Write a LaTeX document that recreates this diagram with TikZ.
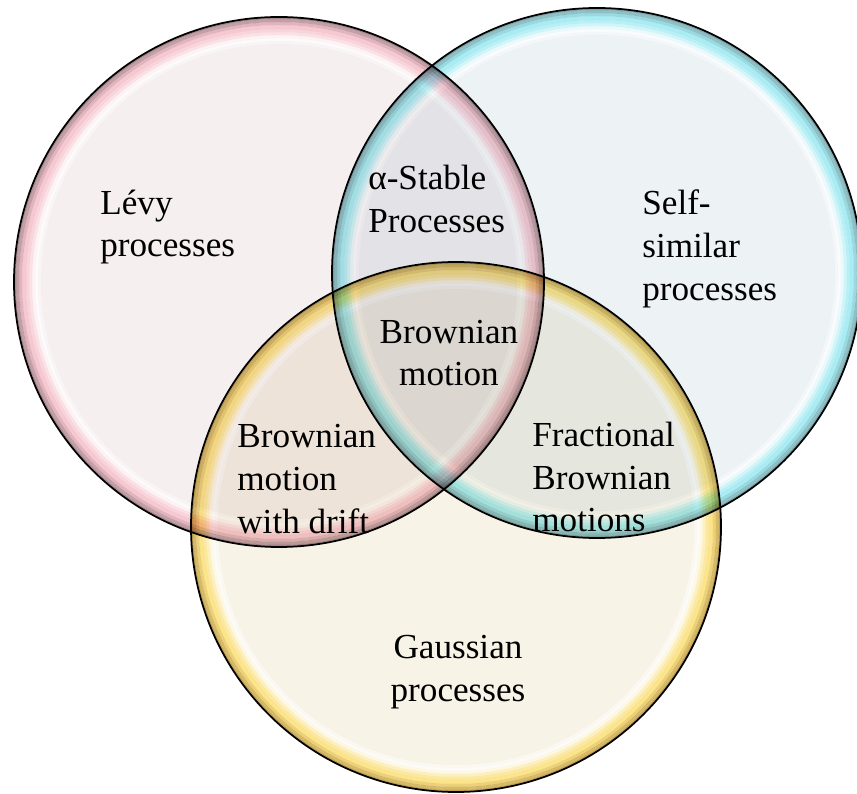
\documentclass[tikz,border=0pt]{standalone}
\usepackage{fontspec}
\setmainfont{Liberation Serif}

\definecolor{levyfill}{HTML}{F5EFF0}
\definecolor{levyrim}{HTML}{F6C9D2}
\definecolor{levyedge}{HTML}{A88A90}
\definecolor{selffill}{HTML}{EDF2F5}
\definecolor{selfrim}{HTML}{A9ECF3}
\definecolor{selfedge}{HTML}{7FA8AE}
\definecolor{gaussfill}{HTML}{F7F3E7}
\definecolor{gaussrim}{HTML}{FBE48A}
\definecolor{gaussedge}{HTML}{C2A455}

\begin{document}
\begin{tikzpicture}[x=0.2mm,y=-0.2mm]
  \tikzset{ ball/.style={blend mode=multiply,even odd rule},
    rim/.style={draw=black,line width=0.35mm},
    lbl/.style={font=\fontsize{20}{24.3}\selectfont,inner sep=0pt,align=left},
  }
  \useasboundingbox (0,0) rectangle (857,794);

  % the three sets, body and glossy rim
  \foreach \cx/\cy/\nm in {279/282/levy,597/273/self,456/527/gauss}{
    \fill[ball,fill=\nm fill] (\cx,\cy) circle (238);
    \foreach \ri/\ro/\c in {238/241/\nm fill!60!white,241/244/\nm fill!30!white,
        244/247/\nm rim!25!white,247/250/\nm rim!55!white,250/253/\nm rim!80!white,
        253/257/\nm rim,257/260/\nm rim!70!\nm edge,260/263/\nm rim!35!\nm edge,
        263/265/\nm edge}
      \fill[ball,fill=\c] (\cx,\cy) circle (\ro) circle (\ri);
  }
  \draw[rim] (279,282) circle (265);
  \draw[rim] (597,273) circle (265);
  \draw[rim] (456,527) circle (265);

  % labels
  \node[lbl,anchor=west] (levy) at (100,227) {Lévy\\processes};
  \node[lbl,anchor=west] (stable) at (368,199) {α-Stable\\Processes};
  \node[lbl,anchor=west] (selfsim) at (642,249) {Self-\\similar\\processes};
  \node[lbl,align=center] (bm) at (449,353) {Brownian\\motion};
  \node[lbl,anchor=west] (bmdrift) at (237,479) {Brownian\\motion\\with drift};
  \node[lbl,anchor=west] (fbm) at (532,477) {Fractional\\Brownian\\motions};
  \node[lbl,align=center] (gauss) at (458,672) {Gaussian\\processes};
\end{tikzpicture}
\end{document}
